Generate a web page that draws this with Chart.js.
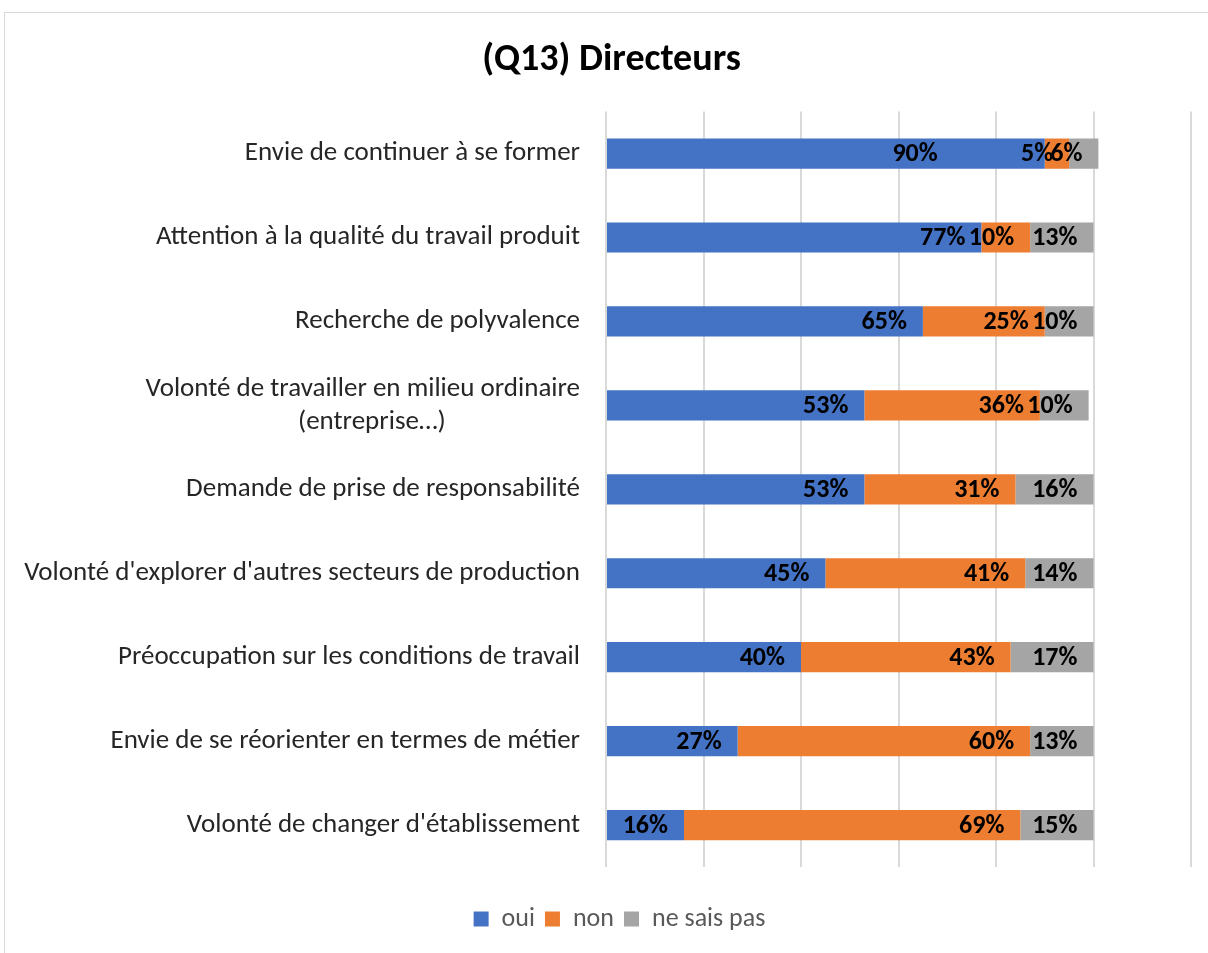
<!DOCTYPE html>
<html>
<head>
<meta charset="utf-8">
<script src="https://cdn.jsdelivr.net/npm/chart.js@4"></script>
<style>
  html, body { margin: 0; padding: 0; background: #fff; overflow: hidden; width: 1208px; height: 953px; }
  #frame { position: absolute; left: 4px; top: 12px; width: 1300px; height: 1000px; border: 1px solid #d9d9d9; box-sizing: border-box; }
  #wrap { position: absolute; left: 4px; top: 12px; width: 1232px; height: 930px; }
</style>
</head>
<body>
<div id="frame"></div>
<div id="wrap"><canvas id="myChart" width="1232" height="930"></canvas></div>
<script>
const FONT = "Carlito, Calibri, 'Liberation Sans Narrow', 'Open Sans', sans-serif"

const categories = [
  'Envie de continuer à se former',
  'Attention à la qualité du travail produit',
  'Recherche de polyvalence',
  ['Volonté de travailler en milieu ordinaire', '(entreprise…)                      '],
  'Demande de prise de responsabilité',
  "Volonté d'explorer d'autres secteurs de production",
  'Préoccupation sur les conditions de travail',
  'Envie de se réorienter en termes de métier',
  "Volonté de changer d'établissement"
]
const ouiValues = [90, 77, 65, 53, 53, 45, 40, 27, 16]
const nonValues = [5, 10, 25, 36, 31, 41, 43, 60, 69]
const nspValues = [6, 13, 10, 10, 16, 14, 17, 13, 15]

// labels drawn at the inner end of each segment
const barLabels = {
  id: 'barLabels',
  afterDatasetsDraw(chart, args, opts) {
    const ctx = chart.ctx
    ctx.save()
    ctx.font = 'bold 26px ' + FONT
    ctx.fillStyle = '#000'
    ctx.textAlign = 'right'
    ctx.textBaseline = 'middle'
    chart.data.datasets.forEach((ds, di) => {
      chart.getDatasetMeta(di).data.forEach((bar, i) => {
        let shift = (opts.shift[di + '-' + i] || 0)
        ctx.fillText(ds.data[i] + '%', bar.x - 16 - shift, bar.y + 1)
      })
    })
    ctx.restore()
  }
}

// nudge title and legend horizontally (centred on the whole frame, not the plot)
const boxShift = {
  id: 'boxShift',
  afterLayout(chart, args, opts) {
    if (chart.titleBlock) { chart.titleBlock.left += opts.title; chart.titleBlock.right += opts.title }
    if (chart.legend) { chart.legend.left += opts.legend; chart.legend.right += opts.legend }
  }
}

const ctx = document.querySelector('#myChart').getContext('2d')
const myChart = new Chart(ctx, {
  type: 'bar',
  data: {
    labels: categories,
    datasets: [
      { label: 'oui', data: ouiValues, backgroundColor: '#4472c4', barPercentage: 0.5, categoryPercentage: 0.72 },
      { label: 'non', data: nonValues, backgroundColor: '#ed7d31', barPercentage: 0.5, categoryPercentage: 0.72 },
      { label: 'ne sais pas', data: nspValues, backgroundColor: '#a5a5a5', barPercentage: 0.5, categoryPercentage: 0.72 }
    ]
  },
  plugins: [barLabels, boxShift],
  options: {
    indexAxis: 'y',
    responsive: false,
    animation: false,
    layout: { padding: { left: 0, right: 45, top: 0, bottom: 0 } },
    scales: {
      x: {
        stacked: true,
        min: 0,
        max: 120,
        ticks: { display: false, stepSize: 20 },
        border: { display: false },
        grid: { color: '#d9d9d9', lineWidth: 2, drawTicks: false },
        afterFit(scale) { scale.height = 29 }
      },
      y: {
        stacked: true,
        border: { display: false },
        grid: { display: false, drawTicks: false },
        ticks: { padding: 26, color: '#262626', font: { family: FONT, size: 27, lineHeight: 1.22 } },
        afterFit(scale) { scale.width = 602 }
      }
    },
    plugins: {
      barLabels: { shift: { '0-0': 91 } },
      boxShift: { title: 14, legend: 22 },
      title: {
        display: true,
        text: '(Q13) Directeurs',
        color: '#000',
        font: { family: FONT, size: 38, weight: 'bold', lineHeight: 1.2 },
        padding: { top: 26, bottom: 28 }
      },
      legend: {
        display: true,
        position: 'bottom',
        labels: {
          color: '#595959',
          font: { family: FONT, size: 26 },
          boxWidth: 15,
          boxHeight: 15,
          padding: 10
        }
      },
      tooltip: { enabled: false }
    }
  }
})
</script>
</body>
</html>
